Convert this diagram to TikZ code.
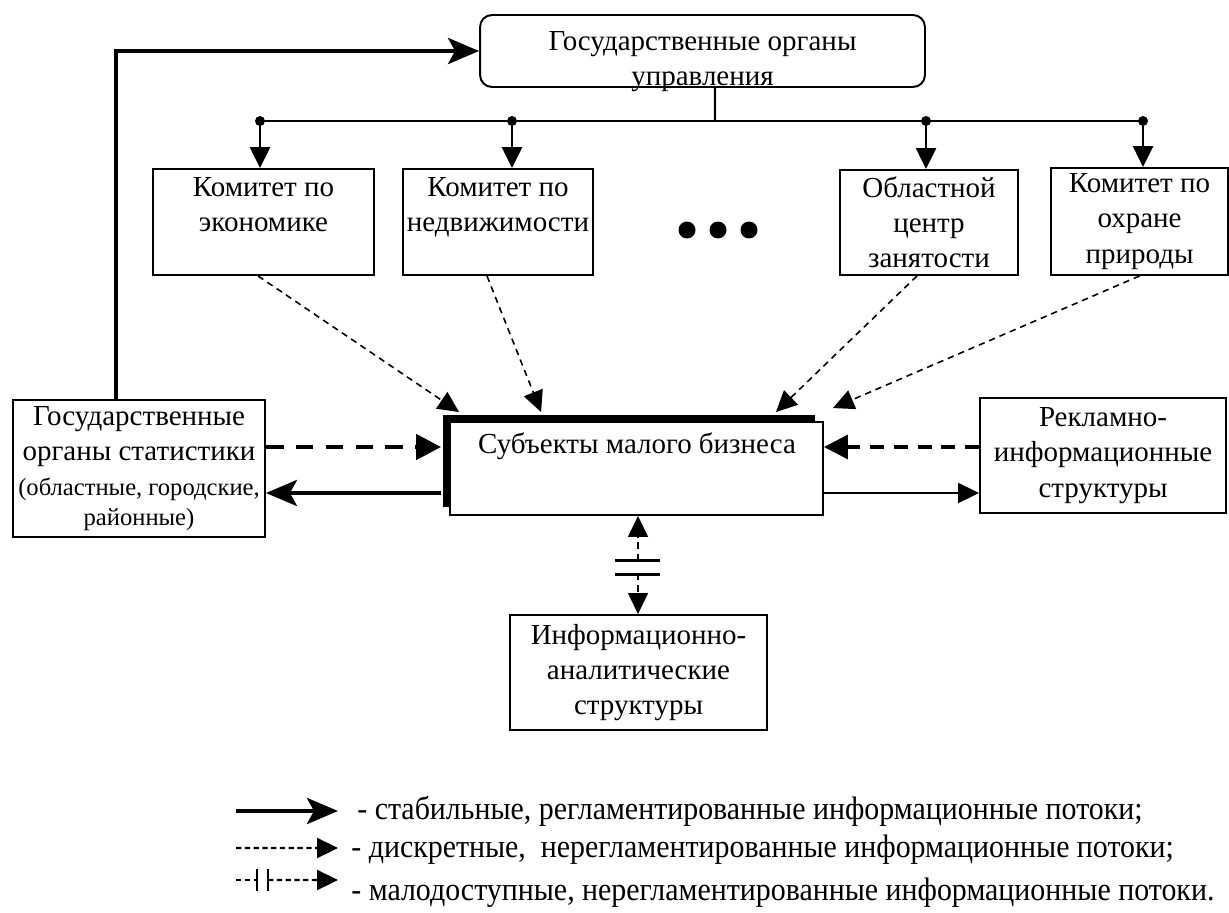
\documentclass[tikz,border=0pt]{standalone}
\usepackage{fontspec}
\setmainfont{Liberation Serif}
\newfontfamily\legfont[FakeStretch=0.92]{Liberation Serif}
\usetikzlibrary{arrows.meta, positioning, shadows, calc}

\tikzset{
  box/.style={draw, line width=1.1pt, fill=white, align=center, inner sep=0pt,
    font=\fontsize{16.5}{20}\selectfont},
  txt/.style={align=center, inner sep=0pt, font=\fontsize{16.5}{20}\selectfont},
  leg/.style={inner sep=0pt, font=\legfont\fontsize{18.5}{20}\selectfont},
  flow/.style={line width=2.4pt, -{Stealth[length=0.62cm, width=0.52cm, inset=0.14cm]}},
  thinflow/.style={line width=1.1pt, -{Triangle[length=0.42cm, width=0.4cm]}},
  bus/.style={line width=1.4pt},
  diag/.style={line width=0.9pt, dash pattern=on 3.6pt off 2.8pt, -{Triangle[length=0.42cm, width=0.4cm]}},
  boldgap/.style={line width=2.8pt, dash pattern=on 10pt off 7pt, -{Triangle[length=0.5cm, width=0.5cm]}},
  midgap/.style={line width=1.8pt, dash pattern=on 8pt off 5.5pt, -{Triangle[length=0.48cm, width=0.48cm]}},
  bar/.style={line width=1.7pt}
}

\begin{document}
\begin{tikzpicture}[x=0.02cm, y=-0.02cm]
  \fill[white] (0,0) rectangle (1229,912);
  \useasboundingbox (0,0) rectangle (1229,912);

  % management and committees
  \node[box, rounded corners=0.24cm, minimum width=8.9cm, minimum height=1.44cm] (gov) at (702.5,51) {};
  \node[txt] (govtxt) at (702.5,62) {Государственные органы\\управления};
  \node[box, minimum width=4.42cm, minimum height=2.12cm] (eco) at (263.5,222) {Комитет по\\экономике\\\mbox{}};
  \node[box, minimum width=3.8cm, minimum height=2.12cm] (realty) at (498,222) {Комитет по\\недвижимости\\\mbox{}};
  \node[box, minimum width=3.56cm, minimum height=2.1cm] (jobs) at (929,222.5) {Областной\\центр\\занятости};
  \node[box, minimum width=3.54cm, minimum height=2.14cm] (nature) at (1139.5,221.5) {Комитет по\\охране\\природы};
  \foreach \x in {687,718,749} {
    \fill (\x,230) circle (0.17cm);
  }

  % bus from the management box
  \coordinate (join) at (715,121);
  \draw[bus] ([xshift=0.25cm]gov.south) -- (join);
  \draw[bus] ([xshift=-0.07cm]eco.north |- join) -- ([xshift=0.07cm]nature.north |- join);
  \foreach \n/\s in {eco/-0.07, realty/0.28, jobs/-0.06, nature/0.07} {
    \fill ([xshift=\s cm]\n.north |- join) circle (0.1cm);
    \draw[bus, -{Triangle[length=0.42cm, width=0.4cm]}] ([xshift=\s cm]\n.north |- join) -- ([xshift=\s cm]\n.north);
  }

  % middle row
  \node[box, minimum width=5.04cm, minimum height=2.74cm] (stat) at (139,468.5)
    {Государственные\\органы статистики\\{\fontsize{14}{15}\selectfont (областные, городские,}\\[-3pt]{\fontsize{14}{15}\selectfont районные)}};
  \node[box, minimum width=7.46cm, minimum height=1.86cm,
    general shadow={fill=black, shadow xshift=-0.15cm, shadow yshift=0.15cm}] (sub) at (636.5,468.5) {};
  \node[txt] (subtxt) at (637,446) {Субъекты малого бизнеса};
  \node[box, minimum width=4.92cm, minimum height=2.3cm] (adv) at (1103,455.5) {Рекламно-\\информационные\\структуры};
  \node[box, minimum width=5.14cm, minimum height=2.3cm] (info) at (638.5,672.5) {Информационно-\\аналитические\\структуры};

  \draw[flow] ([xshift=-0.46cm]stat.north) |- (gov.west);

  \coordinate (upper) at (0,447);
  \coordinate (lower) at (0,493);
  \draw[boldgap] (stat.east |- upper) -- ([xshift=-0.16cm]sub.west |- upper);
  \draw[flow] ([xshift=-0.16cm]sub.west |- lower) -- (stat.east |- lower);
  \draw[midgap] (adv.west |- upper) -- (sub.east |- upper);
  \draw[thinflow] (sub.east |- lower) -- (adv.west |- lower);

  % dashed flows from the committees
  \draw[diag] ([xshift=-0.11cm]eco.south) -- ([xshift=0.2cm, yshift=0.18cm]sub.north west);
  \draw[diag] ([xshift=-0.22cm]realty.south) -- ([xshift=1.84cm, yshift=0.18cm]sub.north west);
  \draw[diag] ([xshift=-0.24cm]jobs.south) -- ([xshift=-0.96cm, yshift=0.18cm]sub.north east);
  \draw[diag] (nature.south) -- ([xshift=0.18cm, yshift=0.26cm]sub.north east);

  % hardly accessible flow
  \coordinate (bar1) at (638,560);
  \coordinate (bar2) at (638,574);
  \draw[diag] (bar1) -- (sub.south -| bar1);
  \draw[diag] (bar2) -- (info.north -| bar2);
  \draw[bar] ([xshift=-0.46cm]bar1) -- ([xshift=0.44cm]bar1);
  \draw[bar] ([xshift=-0.46cm]bar2) -- ([xshift=0.44cm]bar2);

  % legend
  \node[leg, anchor=west] (leg1) at (357,811) {- стабильные, регламентированные информационные потоки;};
  \node[leg, anchor=west] (leg2) at (351,850) {- дискретные,\ \ нерегламентированные информационные потоки;};
  \node[leg, anchor=west] (leg3) at (351,893) {- малодоступные, нерегламентированные информационные потоки.};
  \coordinate (l1) at (236,811);
  \coordinate (l2) at (236,848);
  \coordinate (l3) at (236,880);
  \coordinate (m1) at (257,880);
  \coordinate (m2) at (268,880);
  \draw[flow] (l1) -- ([xshift=-0.38cm]leg1.west);
  \draw[diag, line width=1.3pt, dash pattern=on 3pt off 2pt] (l2) -- ([xshift=-0.26cm, yshift=0.04cm]leg2.west);
  \draw[line width=1.3pt, dash pattern=on 3pt off 2pt] (l3) -- (m1);
  \draw[diag, line width=1.3pt, dash pattern=on 3pt off 2pt] (m2) -- ([xshift=-0.26cm, yshift=0.26cm]leg3.west);
  \draw[bar, line width=1.2pt] ([yshift=0.22cm]m1) -- ([yshift=-0.22cm]m1);
  \draw[bar, line width=1.2pt] ([yshift=0.22cm]m2) -- ([yshift=-0.22cm]m2);
\end{tikzpicture}
\end{document}
